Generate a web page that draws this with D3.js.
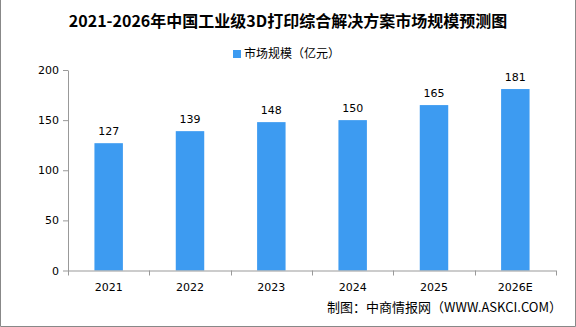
<!DOCTYPE html>
<html>
<head>
<meta charset="utf-8">
<script src="https://cdn.jsdelivr.net/npm/d3@7"></script>
<style>
  body { margin: 0; background: #fff; }
  svg { display: block; font-family: "Noto Sans CJK SC", "DejaVu Sans", sans-serif; }
  .axis path, .axis line { stroke: #999; }
  .axis text { fill: #000; font-size: 11px; font-family: "DejaVu Sans", sans-serif; }
</style>
</head>
<body>
<svg id="chart"></svg>
<script>
// data
var years = ["2021", "2022", "2023", "2024", "2025", "2026E"];
var marketSize = [127, 139, 148, 150, 165, 181];
var yTicks = [0, 50, 100, 150, 200];

var width = 576, height = 327;
var margin = {top: 70, right: 20, bottom: 56, left: 68};

var svg = d3.select("#chart")
    .attr("width", width)
    .attr("height", height);

// frame
svg.append("path")
    .attr("d", "M0.5,0 V" + (height - 0.5) + " H" + (width - 0.5) + " V0")
    .attr("fill", "none")
    .attr("stroke", "#888");

var xScale = d3.scaleBand()
    .domain(years)
    .range([margin.left, 556]);

var yScale = d3.scaleLinear()
    .domain([0, 200])
    .range([270.5, margin.top]);

// title
svg.append("text")
    .attr("x", 288)
    .attr("y", 27)
    .attr("text-anchor", "middle")
    .attr("font-size", 16)
    .attr("font-weight", "bold")
    .text("2021-2026年中国工业级3D打印综合解决方案市场规模预测图");

// legend
var legend = svg.append("g").attr("transform", "translate(233,47)");
legend.append("rect")
    .attr("width", 8).attr("height", 8).attr("y", 3)
    .attr("fill", "#3d9bf1");
legend.append("text")
    .attr("x", 11).attr("y", 11)
    .attr("font-size", 12)
    .text("市场规模（亿元）");

// y axis
svg.append("g")
    .attr("class", "y axis")
    .attr("transform", "translate(" + margin.left + ",0)")
    .call(d3.axisLeft(yScale).tickValues(yTicks).tickSize(5).tickSizeOuter(0).tickPadding(4));

// bars
var bw = xScale.bandwidth() * 0.35;
svg.selectAll(".bar")
    .data(marketSize)
  .enter().append("rect")
    .attr("class", "bar")
    .attr("x", function(d, i) { return xScale(years[i]) + xScale.bandwidth() / 2 - bw / 2; })
    .attr("y", function(d) { return yScale(d); })
    .attr("width", bw)
    .attr("height", function(d) { return yScale(0) - yScale(d); })
    .attr("fill", "#3d9bf1");

// value labels
svg.selectAll(".val")
    .data(marketSize)
  .enter().append("text")
    .attr("class", "val")
    .attr("x", function(d, i) { return xScale(years[i]) + xScale.bandwidth() / 2; })
    .attr("y", function(d) { return yScale(d) - 8; })
    .attr("text-anchor", "middle")
    .attr("font-size", 11)
    .attr("font-family", "DejaVu Sans, sans-serif")
    .text(function(d) { return d; });

// x axis with ticks at band edges
var xAxisG = svg.append("g")
    .attr("class", "x axis")
    .attr("transform", "translate(0," + yScale(0) + ")");
xAxisG.append("path")
    .attr("d", "M" + margin.left + ",0.5 H556");
var edges = years.map(function(y) { return xScale(y); }).concat([xScale(years[years.length - 1]) + xScale.bandwidth()]);
xAxisG.selectAll(".edge")
    .data(edges)
  .enter().append("line")
    .attr("x1", function(d) { return Math.round(d) + 0.5; })
    .attr("x2", function(d) { return Math.round(d) + 0.5; })
    .attr("y1", 0).attr("y2", 5);
xAxisG.selectAll(".lbl")
    .data(years)
  .enter().append("text")
    .attr("x", function(d) { return xScale(d) + xScale.bandwidth() / 2; })
    .attr("y", 20)
    .attr("text-anchor", "middle")
    .text(function(d) { return d; });

// source
svg.append("text")
    .attr("x", 562)
    .attr("y", 312)
    .attr("text-anchor", "end")
    .attr("font-size", 13)
    .text("制图：中商情报网（WWW.ASKCI.COM）");
</script>
</body>
</html>
